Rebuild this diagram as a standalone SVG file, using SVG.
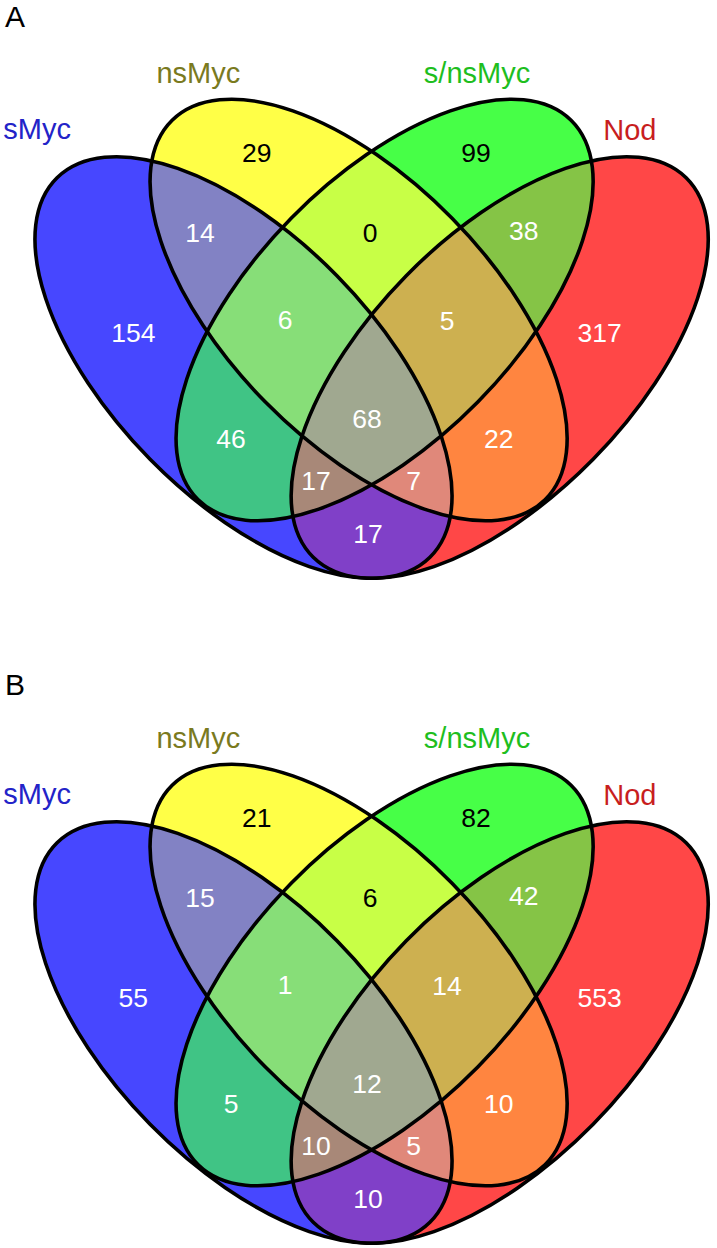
<svg xmlns="http://www.w3.org/2000/svg" xmlns:xlink="http://www.w3.org/1999/xlink" width="717" height="1248" viewBox="0 0 717 1248">
<style>
.num{font-family:"Liberation Sans",Arial,sans-serif;font-size:26.5px;text-anchor:middle;fill:#ffffff}
.dk{fill:#000000}
.lab{font-family:"Liberation Sans",Arial,sans-serif;font-size:29px;text-anchor:middle}
.panel{font-family:"Liberation Sans",Arial,sans-serif;font-size:30px;fill:#000000}
.edge{fill:none;stroke:#000000;stroke-width:3.6}
</style>
<defs>
<ellipse id="eS" cx="0" cy="0" rx="266" ry="131" transform="translate(243.5,367.5) rotate(45.5)"/>
<ellipse id="eN" cx="0" cy="0" rx="266" ry="131" transform="translate(358.6,310) rotate(45.5)"/>
<ellipse id="eG" cx="0" cy="0" rx="266" ry="131" transform="translate(384.6,310) rotate(-45.5)"/>
<ellipse id="eR" cx="0" cy="0" rx="266" ry="131" transform="translate(499.7,367.5) rotate(-45.5)"/>
<clipPath id="cS"><ellipse cx="0" cy="0" rx="266" ry="131" transform="translate(243.5,367.5) rotate(45.5)"/></clipPath>
<clipPath id="cN"><ellipse cx="0" cy="0" rx="266" ry="131" transform="translate(358.6,310) rotate(45.5)"/></clipPath>
<clipPath id="cG"><ellipse cx="0" cy="0" rx="266" ry="131" transform="translate(384.6,310) rotate(-45.5)"/></clipPath>
<clipPath id="cR"><ellipse cx="0" cy="0" rx="266" ry="131" transform="translate(499.7,367.5) rotate(-45.5)"/></clipPath>
<g id="venn">
  <g id="singles">
    <use xlink:href="#eS" fill="#4747FF"/>
    <use xlink:href="#eN" fill="#FFFF47"/>
    <use xlink:href="#eG" fill="#47FF47"/>
    <use xlink:href="#eR" fill="#FF4747"/>
  </g>
  <g id="pairs">
    <g clip-path="url(#cS)"><rect x="0" y="0" width="717" height="620" fill="#8282C4" clip-path="url(#cN)"/></g>
    <g clip-path="url(#cS)"><rect x="0" y="0" width="717" height="620" fill="#40C485" clip-path="url(#cG)"/></g>
    <g clip-path="url(#cS)"><rect x="0" y="0" width="717" height="620" fill="#8040C8" clip-path="url(#cR)"/></g>
    <g clip-path="url(#cN)"><rect x="0" y="0" width="717" height="620" fill="#C8FF46" clip-path="url(#cG)"/></g>
    <g clip-path="url(#cN)"><rect x="0" y="0" width="717" height="620" fill="#FF8540" clip-path="url(#cR)"/></g>
    <g clip-path="url(#cG)"><rect x="0" y="0" width="717" height="620" fill="#85C446" clip-path="url(#cR)"/></g>
  </g>
  <g id="triples">
    <g clip-path="url(#cS)"><g clip-path="url(#cN)"><rect x="0" y="0" width="717" height="620" fill="#87DE78" clip-path="url(#cG)"/></g></g>
    <g clip-path="url(#cS)"><g clip-path="url(#cN)"><rect x="0" y="0" width="717" height="620" fill="#E0887A" clip-path="url(#cR)"/></g></g>
    <g clip-path="url(#cS)"><g clip-path="url(#cG)"><rect x="0" y="0" width="717" height="620" fill="#A88878" clip-path="url(#cR)"/></g></g>
    <g clip-path="url(#cN)"><g clip-path="url(#cG)"><rect x="0" y="0" width="717" height="620" fill="#CDB050" clip-path="url(#cR)"/></g></g>
  </g>
  <g id="quad">
    <g clip-path="url(#cS)"><g clip-path="url(#cN)"><g clip-path="url(#cG)"><rect x="0" y="0" width="717" height="620" fill="#A0A890" clip-path="url(#cR)"/></g></g></g>
  </g>
  <g id="outlines">
    <use xlink:href="#eS" class="edge"/>
    <use xlink:href="#eN" class="edge"/>
    <use xlink:href="#eG" class="edge"/>
    <use xlink:href="#eR" class="edge"/>
  </g>
  <g id="setlabels">
    <text class="lab" x="37.2" y="139" fill="#2323C8">sMyc</text>
    <text class="lab" x="198.3" y="83.3" fill="#7A7A1E">nsMyc</text>
    <text class="lab" x="477" y="83" fill="#1EBE1E">s/nsMyc</text>
    <text class="lab" x="629.8" y="140" fill="#C81E1E">Nod</text>
  </g>
</g>
</defs>

<g id="panelA">
  <text class="panel" x="5" y="27">A</text>
  <use xlink:href="#venn"/>
  <g id="countsA">
    <text class="num dk" x="256.7" y="161.5">29</text>
    <text class="num dk" x="476" y="161.5">99</text>
    <text class="num" x="200" y="241.5">14</text>
    <text class="num dk" x="370" y="241.5">0</text>
    <text class="num" x="523.7" y="239.5">38</text>
    <text class="num" x="133.3" y="341.5">154</text>
    <text class="num" x="285" y="328.5">6</text>
    <text class="num" x="447" y="329.5">5</text>
    <text class="num" x="599.7" y="341.5">317</text>
    <text class="num" x="231" y="447.5">46</text>
    <text class="num" x="367" y="427.5">68</text>
    <text class="num" x="498.7" y="447.5">22</text>
    <text class="num" x="316" y="489.5">17</text>
    <text class="num" x="413.7" y="489.5">7</text>
    <text class="num" x="368" y="542.5">17</text>
  </g>
</g>

<g id="panelB">
  <text class="panel" x="5" y="695">B</text>
  <use xlink:href="#venn" transform="translate(0,665)"/>
  <g id="countsB" transform="translate(0,665)">
    <text class="num dk" x="256.7" y="161.5">21</text>
    <text class="num dk" x="476" y="161.5">82</text>
    <text class="num" x="200" y="241.5">15</text>
    <text class="num dk" x="370" y="241.5">6</text>
    <text class="num" x="523.7" y="239.5">42</text>
    <text class="num" x="133.3" y="341.5">55</text>
    <text class="num" x="285" y="328.5">1</text>
    <text class="num" x="447" y="329.5">14</text>
    <text class="num" x="599.7" y="341.5">553</text>
    <text class="num" x="231" y="447.5">5</text>
    <text class="num" x="367" y="427.5">12</text>
    <text class="num" x="498.7" y="447.5">10</text>
    <text class="num" x="316" y="489.5">10</text>
    <text class="num" x="413.7" y="489.5">5</text>
    <text class="num" x="368" y="542.5">10</text>
  </g>
</g>
</svg>
